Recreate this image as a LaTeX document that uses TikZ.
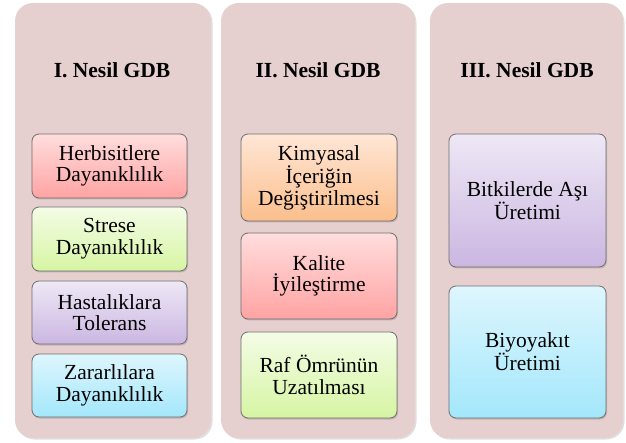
\documentclass[tikz,border=0pt]{standalone}
\usepackage{fontspec}
\setmainfont{Liberation Serif}
\usetikzlibrary{shapes,shadows}

\definecolor{panelpink}{HTML}{E6CFCF}
\definecolor{boxedge}{HTML}{6E6E6E}
\definecolor{redtop}{HTML}{FFDDDD}
\definecolor{redbot}{HTML}{FFA3A3}
\definecolor{greentop}{HTML}{F4FCE6}
\definecolor{greenbot}{HTML}{D6F5A3}
\definecolor{purptop}{HTML}{EEE8F6}
\definecolor{purpbot}{HTML}{CBB6E1}
\definecolor{cyantop}{HTML}{DEF6FE}
\definecolor{cyanbot}{HTML}{A3E7FB}
\definecolor{orangetop}{HTML}{FFE6D6}
\definecolor{orangebot}{HTML}{FBBF8C}

\begin{document}
\begin{tikzpicture}[x=1pt,y=-1pt,
  panel/.style={shape=rectangle,rounded corners=18pt,fill=panelpink,minimum height=435pt,inner sep=0pt,
    drop shadow={shadow xshift=1.5pt,shadow yshift=-1.5pt,opacity=0.25}},
  gentitle/.style={align=center,font=\fontsize{21.5}{22}\selectfont\bfseries},
  item/.style={shape=rectangle,rounded corners=7pt,draw=boxedge,line width=0.8pt,align=center,inner sep=0pt,
    font=\fontsize{21.5}{21.7}\selectfont,drop shadow={shadow xshift=1pt,shadow yshift=-1.5pt,opacity=0.35}},
  red/.style={top color=redtop,bottom color=redbot},
  green/.style={top color=greentop,bottom color=greenbot},
  purp/.style={top color=purptop,bottom color=purpbot},
  cyan/.style={top color=cyantop,bottom color=cyanbot},
  orange/.style={top color=orangetop,bottom color=orangebot}]
\useasboundingbox (0,0) rectangle (626,443);
\node[panel,minimum width=196pt] (p1) at (113,220.5) {};
\node[panel,minimum width=194pt] (p2) at (318,220.5) {};
\node[panel,minimum width=193pt] (p3) at (526.5,220.5) {};

\node[gentitle] (t1) at (112,70) {I. Nesil GDB};
\node[gentitle] (t2) at (318,70) {II. Nesil GDB};
\node[gentitle] (t3) at (527,70) {III. Nesil GDB};

\node[item,red,minimum width=155pt,minimum height=64pt] (b11) at (109.5,166) {Herbisitlere\\Dayanıklılık};
\node[item,green,minimum width=155pt,minimum height=64pt] (b12) at (109.5,239) {Strese\\Dayanıklılık};
\node[item,purp,minimum width=155pt,minimum height=63pt] (b13) at (109.5,312.5) {Hastalıklara\\Tolerans};
\node[item,cyan,minimum width=155pt,minimum height=63pt] (b14) at (109.5,385.5) {Zararlılara\\Dayanıklılık};

\node[item,orange,minimum width=156pt,minimum height=87pt] (b21) at (319,177.5) {Kimyasal\\İçeriğin\\Değiştirilmesi};
\node[item,red,minimum width=156pt,minimum height=86pt] (b22) at (319,276) {Kalite\\İyileştirme};
\node[item,green,minimum width=156pt,minimum height=86pt] (b23) at (319,375) {Raf Ömrünün\\Uzatılması};

\node[item,purp,minimum width=157pt,minimum height=133pt] (b31) at (527.5,200.5) {Bitkilerde Aşı\\Üretimi};
\node[item,cyan,minimum width=157pt,minimum height=132pt] (b32) at (527.5,352) {Biyoyakıt\\Üretimi};
\end{tikzpicture}
\end{document}
